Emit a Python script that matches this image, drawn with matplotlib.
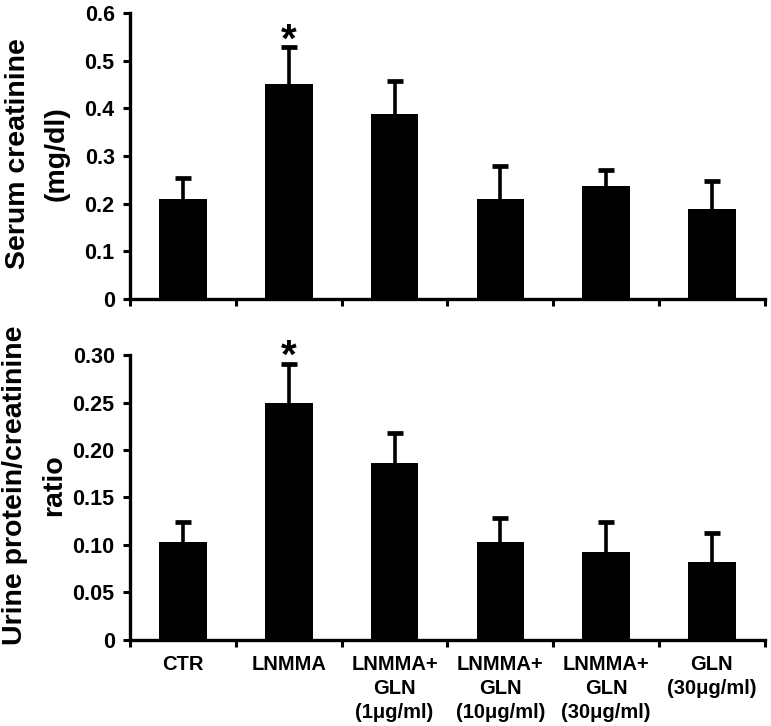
import matplotlib
matplotlib.use("Agg")
import matplotlib.pyplot as plt
import numpy as np

plt.rcParams['font.family'] = ['Liberation Sans', 'DejaVu Sans']
plt.rcParams['font.weight'] = 'bold'

categories = ["CTR", "LNMMA", "LNMMA+\nGLN\n(1\u03bcg/ml)", "LNMMA+\nGLN\n(10\u03bcg/ml)",
              "LNMMA+\nGLN\n(30\u03bcg/ml)", "GLN\n(30\u03bcg/ml)"]
serum_mean = [0.21, 0.451, 0.389, 0.211, 0.238, 0.189]
serum_err = [0.044, 0.077, 0.068, 0.068, 0.033, 0.059]
urine_mean = [0.103, 0.249, 0.186, 0.103, 0.093, 0.082]
urine_err = [0.021, 0.042, 0.032, 0.025, 0.031, 0.031]
sig = [False, True, False, False, False, False]

fig = plt.figure(figsize=(7.71, 7.26), dpi=100)
ax1 = fig.add_axes([0.1686, 0.588, 0.8234, 0.394])
ax2 = fig.add_axes([0.1686, 0.1185, 0.8234, 0.3925])

def draw(ax, means, errs, ymax, yticks, yticklabels, ylabel, show_labels):
    x = np.arange(len(means))
    ax.bar(x, means, width=0.45, color='black', zorder=2)
    _, caps, _ = ax.errorbar(x, means, yerr=[np.zeros(len(errs)), errs], fmt='none',
                             ecolor='black', elinewidth=2.6, capsize=5.5, capthick=3.4, zorder=3)
    caps[0].set_visible(False)
    for i, s in enumerate(sig):
        if s:
            ax.annotate('*', (x[i], means[i] + errs[i]), xytext=(0, -3),
                        textcoords='offset points', ha='center', va='baseline',
                        fontsize=29, fontweight='bold')
    ax.set_xlim(-0.5, len(means) - 0.5)
    ax.set_ylim(0, ymax)
    ax.set_yticks(yticks)
    ax.set_yticklabels(yticklabels, fontsize=15.5, fontweight='bold')
    ax.set_xticks(x)
    if show_labels:
        ax.set_xticklabels(categories, fontsize=14.5, fontweight='bold', linespacing=1.32)
    else:
        ax.set_xticklabels([])
    ax.tick_params(axis='x', which='major', length=0, pad=11)
    ax.set_xticks(np.arange(-0.5, len(means)), minor=True)
    ax.tick_params(axis='x', which='minor', length=5, width=2.2, direction='out')
    ax.tick_params(axis='y', length=5, width=2.2, direction='out', pad=6)
    for sp in ['top', 'right']:
        ax.spines[sp].set_visible(False)
    for sp in ['left', 'bottom']:
        ax.spines[sp].set_linewidth(2.4)
    ax.set_ylabel(ylabel, fontsize=20.5, fontweight='bold', linespacing=1.65)

draw(ax1, serum_mean, serum_err, 0.6, [0, 0.1, 0.2, 0.3, 0.4, 0.5, 0.6],
     ['0', '0.1', '0.2', '0.3', '0.4', '0.5', '0.6'], "Serum creatinine\n(mg/dl)", False)
draw(ax2, urine_mean, urine_err, 0.30, [0, 0.05, 0.10, 0.15, 0.20, 0.25, 0.30],
     ['0', '0.05', '0.10', '0.15', '0.20', '0.25', '0.30'], "Urine protein/creatinine\nratio", True)
ax1.yaxis.set_label_coords(-0.095, 0.51)
ax2.yaxis.set_label_coords(-0.099, 0.542)

fig.savefig("out.png", dpi=100)
